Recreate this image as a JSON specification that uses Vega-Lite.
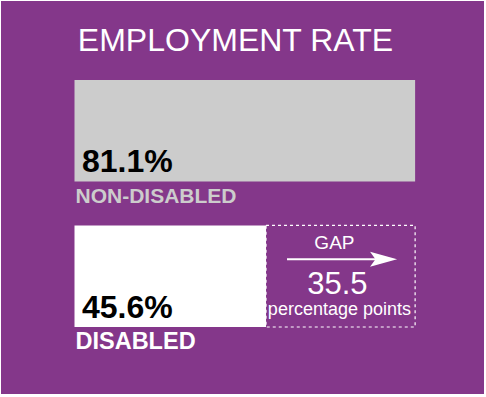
{
  "$schema": "https://vega.github.io/schema/vega-lite/v6.json",
  "width": 483,
  "height": 393,
  "autosize": {"type": "none"},
  "padding": {"left": 1, "top": 1, "right": 2, "bottom": 3},
  "background": "white",
  "config": {
    "view": {"stroke": null, "fill": "#84378a"},
    "font": "Liberation Sans"
  },
  "title": {
    "text": "EMPLOYMENT RATE",
    "color": "white",
    "fontSize": 32,
    "font": "Liberation Sans",
    "fontWeight": "normal",
    "anchor": "middle",
    "frame": "group",
    "orient": "top",
    "baseline": "alphabetic",
    "offset": -49,
    "dx": -7,
    "dy": 33
  },
  "datasets": {
    "rates": [
      {"group": "NON-DISABLED", "rate": 0.811},
      {"group": "DISABLED", "rate": 0.456}
    ],
    "gap": [
      {"group": "DISABLED", "start": 0.456, "end": 0.811, "points": 35.5, "arrowStart": 0.506, "arrowEnd": 0.72, "tip": 0.768, "labelX": 0.626, "title": "GAP", "unit": "percentage points"}
    ]
  },
  "layer": [
    {
      "data": {"name": "rates"},
      "mark": {"type": "bar", "cornerRadius": 0},
      "encoding": {
        "y": {"field": "group", "type": "nominal", "axis": null,
              "scale": {"domain": ["NON-DISABLED", "DISABLED"], "range": [79, 326], "paddingInner": 0.302, "paddingOuter": 0}},
        "x": {"field": "rate", "type": "quantitative", "axis": null,
              "scale": {"domain": [-0.175, 0.975], "nice": false, "zero": false}},
        "x2": {"datum": 0},
        "color": {"field": "group", "type": "nominal", "legend": null,
                  "scale": {"domain": ["NON-DISABLED", "DISABLED"], "range": ["#cccccc", "#ffffff"]}}
      }
    },
    {
      "data": {"name": "rates"},
      "mark": {"type": "text", "align": "left", "baseline": "alphabetic", "dx": 7.5, "dy": -9.5, "fontSize": 32, "fontWeight": "bold", "color": "black"},
      "encoding": {
        "y": {"field": "group", "type": "nominal", "bandPosition": 1},
        "x": {"datum": 0, "type": "quantitative"},
        "text": {"field": "rate", "type": "quantitative", "format": ".1%"}
      }
    },
    {
      "data": {"name": "rates"},
      "mark": {"type": "text", "align": "left", "baseline": "alphabetic", "dx": 1, "dy": 21.5, "fontWeight": "bold"},
      "encoding": {
        "y": {"field": "group", "type": "nominal", "bandPosition": 1},
        "x": {"datum": 0, "type": "quantitative"},
        "text": {"field": "group", "type": "nominal"},
        "color": {"field": "group", "type": "nominal", "legend": null},
        "size": {"field": "group", "type": "nominal", "legend": null,
                 "scale": {"domain": ["NON-DISABLED", "DISABLED"], "range": [21, 23.5]}}
      }
    },
    {
      "data": {"name": "gap"},
      "mark": {"type": "rect", "fill": null, "fillOpacity": 0, "stroke": "white", "strokeWidth": 1.2, "strokeDash": [3, 3]},
      "encoding": {
        "y": {"field": "group", "type": "nominal"},
        "x": {"field": "start", "type": "quantitative"},
        "x2": {"field": "end"}
      }
    },
    {
      "data": {"name": "gap"},
      "mark": {"type": "rule", "color": "white", "strokeWidth": 2, "yOffset": -17},
      "encoding": {
        "y": {"field": "group", "type": "nominal"},
        "x": {"field": "arrowStart", "type": "quantitative"},
        "x2": {"field": "arrowEnd"}
      }
    },
    {
      "data": {"name": "gap"},
      "mark": {"type": "point", "shape": "M0,0L-2,-0.55L-1.6,0L-2,0.55Z", "size": 729, "filled": true, "color": "white", "opacity": 1, "strokeWidth": 0, "yOffset": -17},
      "encoding": {
        "y": {"field": "group", "type": "nominal"},
        "x": {"field": "tip", "type": "quantitative"}
      }
    },
    {
      "data": {"name": "gap"},
      "mark": {"type": "text", "align": "center", "baseline": "alphabetic", "dx": -3, "dy": -27, "fontSize": 19, "color": "white"},
      "encoding": {
        "y": {"field": "group", "type": "nominal"},
        "x": {"field": "labelX", "type": "quantitative"},
        "text": {"field": "title", "type": "nominal"}
      }
    },
    {
      "data": {"name": "gap"},
      "mark": {"type": "text", "align": "center", "baseline": "alphabetic", "dy": 18, "fontSize": 31, "color": "white"},
      "encoding": {
        "y": {"field": "group", "type": "nominal"},
        "x": {"field": "labelX", "type": "quantitative"},
        "text": {"field": "points", "type": "quantitative", "format": ".1f"}
      }
    },
    {
      "data": {"name": "gap"},
      "mark": {"type": "text", "align": "center", "baseline": "alphabetic", "dx": 2, "dy": 39, "fontSize": 18, "color": "white"},
      "encoding": {
        "y": {"field": "group", "type": "nominal"},
        "x": {"field": "labelX", "type": "quantitative"},
        "text": {"field": "unit", "type": "nominal"}
      }
    }
  ]
}
